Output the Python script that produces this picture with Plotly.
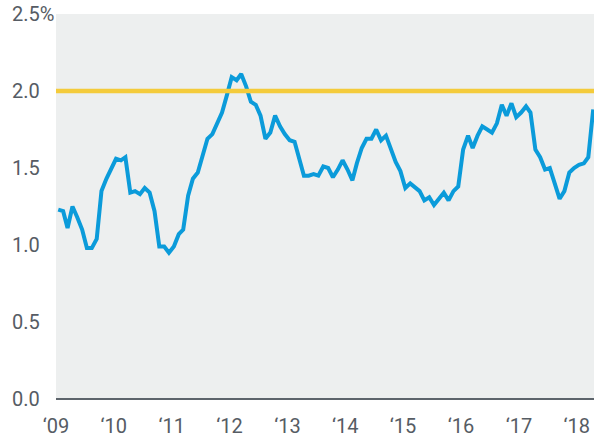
import pandas as pd
import plotly.graph_objects as go

# Monthly values, Jan 2009 - Apr 2018 (%)
values = [
    1.23, 1.22, 1.11, 1.25, 1.18, 1.10, 0.98, 0.98, 1.04, 1.35, 1.43, 1.49,
    1.56, 1.55, 1.57, 1.34, 1.35, 1.33, 1.37, 1.34, 1.22, 0.99, 0.99, 0.95,
    0.99, 1.07, 1.10, 1.32, 1.43, 1.47, 1.57, 1.69, 1.72, 1.79, 1.86, 1.97,
    2.09, 2.07, 2.11, 2.03, 1.93, 1.91, 1.84, 1.69, 1.73, 1.84, 1.77, 1.72,
    1.68, 1.67, 1.56, 1.45, 1.45, 1.46, 1.45, 1.51, 1.50, 1.44, 1.49, 1.55,
    1.49, 1.42, 1.53, 1.63, 1.69, 1.69, 1.75, 1.68, 1.71, 1.62, 1.54, 1.48,
    1.37, 1.40, 1.38, 1.35, 1.29, 1.31, 1.26, 1.30, 1.34, 1.29, 1.35, 1.38,
    1.62, 1.71, 1.63, 1.71, 1.77, 1.75, 1.73, 1.79, 1.91, 1.84, 1.92, 1.83,
    1.86, 1.90, 1.86, 1.62, 1.57, 1.49, 1.50, 1.40, 1.30, 1.35, 1.47, 1.50,
    1.52, 1.53, 1.57, 1.88,
]
target = 2.0

x_tick_vals = ["2009-01-01", "2010-01-01", "2011-01-01", "2012-01-01", "2013-01-01",
               "2014-01-01", "2015-01-01", "2016-01-01", "2017-01-01", "2018-01-01"]
x_tick_text = ["\u201809", "\u201810", "\u201811", "\u201812", "\u201813",
               "\u201814", "\u201815", "\u201816", "\u201817", "\u201818"]
y_tick_vals = [0.0, 0.5, 1.0, 1.5, 2.0, 2.5]
y_tick_text = ["0.0", "0.5", "1.0", "1.5", "2.0", "2.5%"]

dates = pd.date_range(start="2009-01-01", periods=len(values), freq="MS") + pd.Timedelta(days=14)

FONT = "Liberation Sans Narrow, Roboto, sans-serif"
TXT = "#565c64"
FS = 20

fig = go.Figure()
fig.add_trace(go.Scatter(x=dates, y=values, mode="lines",
                         line=dict(color="#0B9BDA", width=4), hoverinfo="skip"))

fig.add_shape(type="line", xref="paper", yref="y", x0=0, x1=1, y0=target, y1=target,
              line=dict(color="#F4CB3B", width=4.5), layer="above")

for v, t in zip(y_tick_vals, y_tick_text):
    fig.add_annotation(xref="paper", yref="y", x=-46 / 538, y=v, text=t,
                       showarrow=False, xanchor="left", yanchor="middle",
                       font=dict(family=FONT, size=FS, color=TXT))

fig.update_layout(
    width=594, height=439,
    margin=dict(l=56, r=0, t=14, b=40),
    paper_bgcolor="white", plot_bgcolor="#EDEFEF",
    showlegend=False,
    xaxis=dict(type="date", range=["2009-01-01", "2018-04-20"],
               tickvals=x_tick_vals, ticktext=x_tick_text, automargin=False,
               showgrid=False, zeroline=False, showline=False, ticks="",
               ticklabelstandoff=13,
               tickfont=dict(family=FONT, size=FS, color=TXT)),
    yaxis=dict(range=[0, 2.5], tickvals=y_tick_vals, showticklabels=False,
               automargin=False,
               showgrid=False, zeroline=True, zerolinecolor="#5d646b", zerolinewidth=2,
               showline=False, ticks=""),
)

fig.write_html("out.html", config={"displayModeBar": False},
               post_script="document.body.style.margin='0px';document.body.style.overflow='hidden';")
